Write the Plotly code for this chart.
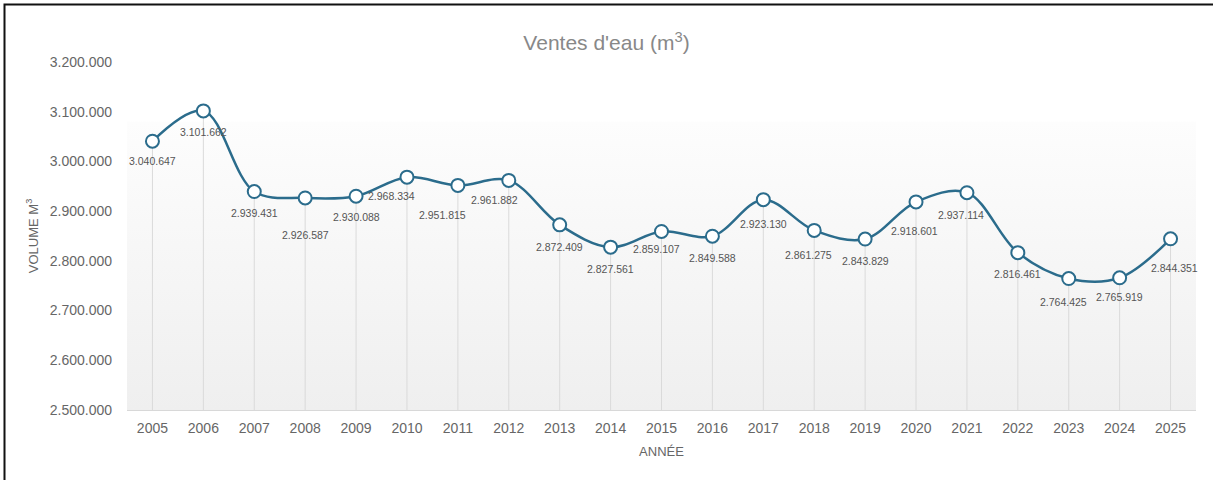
import plotly.graph_objects as go

# ---- data ----
years = [2005, 2006, 2007, 2008, 2009, 2010, 2011, 2012, 2013, 2014, 2015,
         2016, 2017, 2018, 2019, 2020, 2021, 2022, 2023, 2024, 2025]
volumes = [3040647, 3101662, 2939431, 2926587, 2930088, 2968334, 2951815,
           2961882, 2872409, 2827561, 2859107, 2849588, 2923130, 2861275,
           2843829, 2918601, 2937114, 2816461, 2764425, 2765919, 2844351]
tick_labels = [str(y) for y in years]

title_text = "Ventes d'eau (m<sup>3</sup>)"
x_title = "ANNÉE"
y_title = "VOLUME M<sup>3</sup>"

# ---- label offsets (pixels, dx right, dy down) ----
label_dx = [0, 0, 0, 0, 0, -15, -15, -14, 0, 0, -5, 0, 0, -6, 0, -2, -6, 0, -5, 0, 4]
label_dy = [20, 21, 21, 37, 21, 19, 30, 20, 22, 22, 18, 22, 24, 25, 22, 29, 22, 21, 23, 19, 29]

# ---- styles ----
W, H = 1213, 480
L, R, T, B = 127, 17, 62, 70
Y_MIN, Y_MAX = 2500000, 3200000
BG_TOP = 3080000
LINE_COLOR = "#2b6c8c"
TEXT_COLOR = "#666666"
FONT = "Liberation Sans, Arial, sans-serif"

fig = go.Figure()

# gradient plot background
x0, x1 = years[0] - 0.5, years[-1] + 0.5
fig.add_trace(go.Scatter(
    x=[x0, x1, x1, x0, x0], y=[Y_MIN, Y_MIN, BG_TOP, BG_TOP, Y_MIN],
    mode="lines", fill="toself", line=dict(width=0),
    fillgradient=dict(type="vertical",
                      colorscale=[[0, "#efefef"], [1, "#fdfdfd"]],
                      start=Y_MIN, stop=BG_TOP),
    hoverinfo="skip", showlegend=False))

# drop lines from points to axis
dx_, dy_ = [], []
for yr, v in zip(years, volumes):
    dx_ += [yr, yr, None]
    dy_ += [Y_MIN, v, None]
fig.add_trace(go.Scatter(x=dx_, y=dy_, mode="lines",
                         line=dict(color="#dadada", width=1),
                         hoverinfo="skip", showlegend=False))

# main series
fig.add_trace(go.Scatter(
    x=years, y=volumes, mode="lines+markers",
    line=dict(color=LINE_COLOR, width=2.5, shape="spline", smoothing=1.0),
    marker=dict(size=13, color="white", line=dict(color=LINE_COLOR, width=2)),
    showlegend=False))

# data labels
for yr, v, dx, dy in zip(years, volumes, label_dx, label_dy):
    fig.add_annotation(x=yr, y=v, text=f"{v:,}".replace(",", "."),
                       showarrow=False, xshift=dx, yshift=-dy,
                       font=dict(size=10.5, color="#555555", family=FONT))

# page border
fig.add_shape(type="rect", xref="paper", yref="paper",
              x0=(4.5 - L) / (W - L - R), x1=(W + 3 - L) / (W - L - R),
              y0=(H - B - (H + 3)) / (H - T - B), y1=(H - B - 4.5) / (H - T - B),
              line=dict(color="#111111", width=2), fillcolor="rgba(0,0,0,0)")

fig.update_layout(
    width=W, height=H,
    margin=dict(l=L, r=R, t=T, b=B),
    paper_bgcolor="white", plot_bgcolor="rgba(0,0,0,0)",
    separators=",.",
    font=dict(family=FONT, color=TEXT_COLOR),
    title=dict(text=title_text, x=0.5, xref="container", xanchor="center",
               y=1 - 43 / H, yanchor="middle", yref="container",
               font=dict(size=21, color="#888888", family=FONT)),
    xaxis=dict(range=[x0, x1], tickvals=years, ticktext=tick_labels,
               showgrid=False, zeroline=False, showline=True,
               linecolor="#d8d8d8", linewidth=1, ticks="",
               ticklabelstandoff=5,
               tickfont=dict(size=14, color=TEXT_COLOR),
               title=dict(text=x_title, standoff=12,
                          font=dict(size=13, color=TEXT_COLOR))),
    yaxis=dict(range=[Y_MIN, Y_MAX], dtick=100000, tickformat=",d",
               showgrid=False, zeroline=False, showline=False, ticks="",
               ticklabelstandoff=14,
               tickfont=dict(size=14, color=TEXT_COLOR),
               title=dict(text=y_title, standoff=8,
                          font=dict(size=13, color=TEXT_COLOR))),
)

fig.write_html("out.html", config={"displayModeBar": False},
               post_script="document.body.style.margin='0';")
